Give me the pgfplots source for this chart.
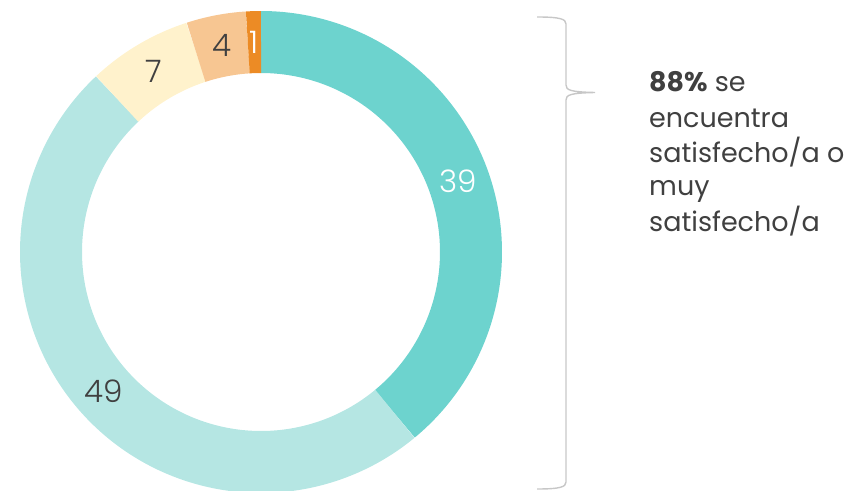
\documentclass[border=0pt]{standalone}
\usepackage{pgfplots}
\pgfplotsset{compat=1.18}
\usepackage{pgfplotstable}
\usepackage{fontspec}
\setmainfont{Poppins}
\newfontfamily\lightfont{Poppins Light}

\definecolor{cA}{HTML}{6DD3CE}
\definecolor{cB}{HTML}{B5E6E3}
\definecolor{cC}{HTML}{FFF2CC}
\definecolor{cD}{HTML}{F7C692}
\definecolor{cE}{HTML}{EC8B25}
\definecolor{txt}{HTML}{404040}

\pgfplotstableread{
idx value
0 39
1 49
2 7
3 4
4 1
}\donut

\begin{document}%
\begin{tikzpicture}[x=1pt,y=1pt]
\pgfplotstablegetelem{0}{value}\of\donut\let\vA\pgfplotsretval
\pgfplotstablegetelem{1}{value}\of\donut\let\vB\pgfplotsretval
\pgfplotstablegetelem{2}{value}\of\donut\let\vC\pgfplotsretval
\pgfplotstablegetelem{3}{value}\of\donut\let\vD\pgfplotsretval
\pgfplotstablegetelem{4}{value}\of\donut\let\vE\pgfplotsretval
\pgfmathsetmacro\aA{90}
\pgfmathsetmacro\aB{\aA-3.6*\vA}
\pgfmathsetmacro\aC{\aB-3.6*\vB}
\pgfmathsetmacro\aD{\aC-3.6*\vC}
\pgfmathsetmacro\aE{\aD-3.6*\vD}
\pgfmathsetmacro\aF{\aE-3.6*\vE}
\pgfmathsetmacro\mA{(\aA+\aB)/2}
\pgfmathsetmacro\mB{(\aB+\aC)/2}
\pgfmathsetmacro\mC{(\aC+\aD)/2}
\pgfmathsetmacro\mD{(\aD+\aE)/2}
\pgfmathsetmacro\mE{(\aE+\aF)/2}
\useasboundingbox (0,0) rectangle (856,490);
\begin{axis}[hide axis, scale only axis, width=482pt, height=482pt,
  xmin=-241, xmax=241, ymin=-241, ymax=241,
  anchor=center, at={(261pt,238pt)}, clip=false]
\addplot[draw=cA, line width=62pt, line cap=butt, domain=\aB:\aA, samples=150, variable=\t] ({210*cos(t)},{210*sin(t)});
\addplot[draw=cB, line width=62pt, line cap=butt, domain=\aC:\aB, samples=180, variable=\t] ({210*cos(t)},{210*sin(t)});
\addplot[draw=cC, line width=62pt, line cap=butt, domain=\aD:\aC, samples=30, variable=\t] ({210*cos(t)},{210*sin(t)});
\addplot[draw=cD, line width=62pt, line cap=butt, domain=\aE:\aD, samples=20, variable=\t] ({210*cos(t)},{210*sin(t)});
\addplot[draw=cE, line width=62pt, line cap=butt, domain=\aF:\aE, samples=8, variable=\t] ({210*cos(t)},{210*sin(t)});
\node[text=white, font=\lightfont\fontsize{31}{31}\selectfont] at (axis cs:{210*cos(\mA)},{210*sin(\mA)}) {\vA};
\node[text=txt, font=\lightfont\fontsize{31}{31}\selectfont] at (axis cs:{210*cos(\mB)},{210*sin(\mB)}) {\vB};
\node[text=txt, font=\lightfont\fontsize{31}{31}\selectfont] at (axis cs:{210*cos(\mC)},{210*sin(\mC)}) {\vC};
\node[text=txt, font=\lightfont\fontsize{31}{31}\selectfont] at (axis cs:{210*cos(\mD)},{210*sin(\mD)}) {\vD};
\node[text=white, font=\lightfont\fontsize{31}{31}\selectfont] at (axis cs:{210*cos(\mE)},{210*sin(\mE)}) {\vE};
\end{axis}
\draw[black!22, line width=1.4pt] (537,473) .. controls (560,473) and (566,471) .. (566,466) -- (566,405)
  .. controls (566,400) and (570,398) .. (595,397.5)
  .. controls (570,397) and (566,395) .. (566,390) -- (566,8)
  .. controls (566,3) and (560,1) .. (537,1);
\begin{scope}[every node/.style={anchor=base west, inner sep=0pt, text=txt, font=\fontsize{27}{35}\selectfont}]
\node at (649,398) {\textbf{88\%} se};
\node at (649,362) {encuentra};
\node at (649,327) {satisfecho/a o};
\node at (649,294) {muy};
\node at (649,258) {satisfecho/a};
\end{scope}
\end{tikzpicture}%
\end{document}
